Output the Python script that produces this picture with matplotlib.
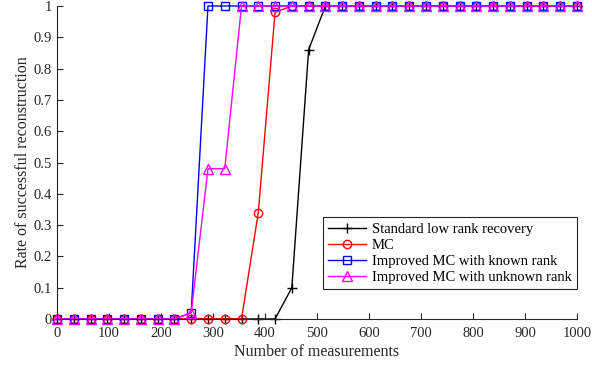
import numpy as np
import matplotlib
matplotlib.use("Agg")
import matplotlib.pyplot as plt

plt.rcParams['font.family'] = ['Liberation Serif', 'DejaVu Serif']
plt.rcParams['mathtext.fontset'] = 'stix'

x = np.linspace(0, 1000, 32)
standard = [0]*14 + [0.10, 0.86] + [1]*16
mc = [0]*12 + [0.34, 0.98] + [1]*18
known = [0]*8 + [0.02] + [1]*23
unknown = [0]*8 + [0.02, 0.48, 0.48] + [1]*21

labels = ["Standard low rank recovery", "MC",
          "Improved MC with known rank", "Improved MC with unknown rank"]

fig = plt.figure(figsize=(5.92, 3.69), dpi=100)
ax = fig.add_axes([57/592, 1-319/369, 520/592, 313/369])

ax.plot(x, standard, color='black', marker='+', ms=7, mew=1.0, lw=1.0, label=labels[0])
ax.plot(x, mc, color='red', marker='o', ms=6, mfc='none', mew=1.0, lw=1.0, label=labels[1])
ax.plot(x, known, color='blue', marker='s', ms=5.5, mfc='none', mew=1.0, lw=1.0, label=labels[2])
ax.plot(x, unknown, color='magenta', marker='^', ms=7, mfc='none', mew=1.0, lw=1.0, label=labels[3])

ax.set_xlim(0, 1000)
ax.set_ylim(0, 1)
ax.set_xticks(np.arange(0, 1001, 100))
ax.set_yticks(np.arange(0, 1.01, 0.1))
ax.set_yticklabels(['0', '0.1', '0.2', '0.3', '0.4', '0.5', '0.6', '0.7', '0.8', '0.9', '1'])
ax.tick_params(direction='in', labelsize=10.5, length=4, colors='#262626', labelcolor='#262626')
ax.tick_params(axis='x', pad=6)
for s in ['top', 'right']:
    ax.spines[s].set_visible(False)
for s in ['left', 'bottom']:
    ax.spines[s].set_color('#262626')
    ax.spines[s].set_linewidth(0.8)
for l in ax.lines:
    l.set_clip_on(False)

ax.set_xlabel('Number of measurements', fontsize=11.5, color='#262626', labelpad=3)
ax.set_ylabel('Rate of successful reconstruction', fontsize=11.5, color='#262626', labelpad=2)

leg = ax.legend(loc='lower right', bbox_to_anchor=(1.0, 0.095), fontsize=10.5,
                frameon=True, fancybox=False, edgecolor='#262626', framealpha=1,
                borderpad=0.35, labelspacing=0.2, handlelength=2.6, handletextpad=0.4,
                borderaxespad=0)
leg.get_frame().set_linewidth(0.8)

fig.savefig('out.png', dpi=100)
